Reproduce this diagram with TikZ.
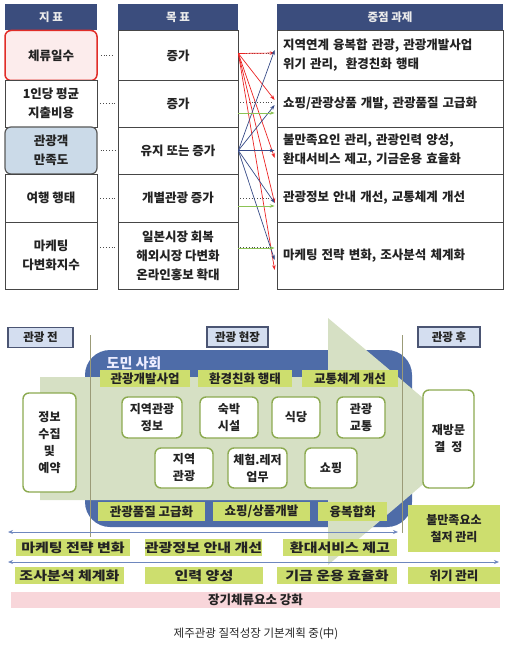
\documentclass[tikz,border=0pt]{standalone}
\usepackage{fontspec}
\setmainfont{Noto Sans CJK KR}
\newfontfamily\widefont{Noto Sans CJK KR}[FakeStretch=1.2]
\usetikzlibrary{arrows.meta}
\definecolor{hdblue}{RGB}{59,77,125}
\definecolor{redline}{RGB}{225,45,40}
\definecolor{pinkcell}{RGB}{252,236,236}
\definecolor{bluecell}{RGB}{203,218,232}
\definecolor{sage}{RGB}{214,224,196}
\definecolor{frameblue}{RGB}{78,108,168}
\definecolor{limefill}{RGB}{205,222,110}
\definecolor{boxgreen}{RGB}{140,170,80}
\definecolor{tagfill}{RGB}{212,222,240}
\definecolor{tagdraw}{RGB}{75,85,115}
\definecolor{vline}{RGB}{155,155,120}
\definecolor{arrowblue}{RGB}{110,135,190}
\definecolor{pinkbar}{RGB}{248,214,218}
\definecolor{arrred}{RGB}{235,35,35}
\definecolor{arrblue}{RGB}{55,75,135}
\definecolor{arrgreen}{RGB}{140,195,85}
\definecolor{txt}{RGB}{35,35,35}
\begin{document}
\begin{tikzpicture}[x=1pt,y=-1pt,
  hd/.style={fill=hdblue, text=white!92!black, font=\bfseries\fontsize{11.5}{14}\selectfont, minimum height=26, inner sep=0},
  cell/.style={draw=gray!55!black, line width=0.7, fill=white, text=txt, align=center, inner sep=0, font=\bfseries\fontsize{12.5}{19}\selectfont},
  task/.style={cell, align=left, text width=214, inner xsep=6},
  tag/.style={draw=tagdraw, fill=tagfill, line width=1.2, text=txt, inner sep=0, minimum height=20, font=\bfseries\fontsize{11.5}{14}\selectfont},
  lbl/.style={fill=limefill, text=txt, inner sep=0, minimum height=17, font=\bfseries\fontsize{12.5}{14}\selectfont},
  wlbl/.style={lbl, font=\widefont\bfseries\fontsize{12.5}{14}\selectfont},
  bx/.style={draw=boxgreen, fill=white, rounded corners=6, line width=1.4, text=txt, align=center, inner sep=0, font=\bfseries\fontsize{12}{17}\selectfont},
  ar/.style={-{Stealth[length=5pt,width=3.5pt]}, line width=0.7},
  dots/.style={dotted, line width=0.8, gray!60!black}]
\useasboundingbox (0,0) rectangle (507,655);

\node[hd, minimum width=92] (h1) at (51,17) {지 표};
\node[hd, minimum width=120] (h2) at (178,17) {목 표};
\node[hd, minimum width=226] (h3) at (390,17) {중점 과제};

\node[cell, minimum width=92, minimum height=50, draw=redline, fill=pinkcell, line width=1.5, rounded corners=6] (a1) at (51,55.5) {체류일수};
\node[cell, minimum width=92, minimum height=47] (a2) at (51,103.5) {1인당 평균\\지출비용};
\node[cell, minimum width=92, minimum height=47, draw=gray!70!black, fill=bluecell, line width=1.2, rounded corners=6] (a3) at (51,150.5) {관광객\\만족도};
\node[cell, minimum width=92, minimum height=48] (a4) at (51,198) {여행 행태};
\node[cell, minimum width=92, minimum height=67] (a5) at (51,255.5) {마케팅\\다변화지수};

\node[cell, minimum width=120, minimum height=50] (b1) at (178,55.5) {증가};
\node[cell, minimum width=120, minimum height=47] (b2) at (178,103.5) {증가};
\node[cell, minimum width=120, minimum height=47] (b3) at (178,150.5) {유지 또는 증가};
\node[cell, minimum width=120, minimum height=48] (b4) at (178,198) {개별관광 증가};
\node[cell, minimum width=120, minimum height=67] (b5) at (178,255.5) {일본시장 회복\\해외시장 다변화\\온라인홍보 확대};

\node[task, minimum height=50] (c1) at (390,55.5) {지역연계 융복합 관광, 관광개발사업\\위기 관리,\ \ 환경친화 행태};
\node[task, minimum height=47] (c2) at (390,103.5) {쇼핑/관광상품 개발, 관광품질 고급화};
\node[task, minimum height=47] (c3) at (390,150.5) {불만족요인 관리, 관광인력 양성,\\환대서비스 제고, 기금운용 효율화};
\node[task, minimum height=48] (c4) at (390,198) {관광정보 안내 개선, 교통체계 개선};
\node[task, minimum height=67] (c5) at (390,255.5) {마케팅 전략 변화, 조사분석 체계화};

\foreach \i in {1,...,4}
  \draw[dots] ([xshift=3]a\i.east) -- ([xshift=-3]b\i.west);
\draw[dots] ([xshift=3,yshift=8]a5.east) -- ([xshift=-3,yshift=8]b5.west);
\foreach \i/\s in {1/2, 2/1.5, 4/0, 5/8.5}
  \draw[dots] ([xshift=2,yshift=\s]b\i.east) -- ([xshift=-3,yshift=\s]c\i.west);

\foreach \t/\s in {c1/2.5, c2/3.5, c3/-7.5, c4/-5, c5/-14.5}
  \draw[ar, arrred] ([yshift=2]b1.east) -- ([xshift=-2,yshift=\s]\t.west);
\foreach \t/\s in {c1/5.5, c2/-1.5, c3/0, c4/-5, c5/-4.5}
  \draw[ar, arrblue] (b3.east) -- ([xshift=-2,yshift=\s]\t.west);
\foreach \i/\s in {2/-9.5, 4/-8, 5/7.5}
  \draw[ar, arrgreen] ([yshift=\s]b\i.east) -- ([xshift=-2,yshift=\s]c\i.west);

\fill[frameblue, rounded corners=25] (85,350) rectangle (412,527);
\fill[sage] (40,377) -- (328,377) -- (328,318) -- (474,441) -- (328,565) -- (328,500) -- (40,500) -- cycle;
\draw[vline, line width=0.9] (90,335) -- (90,537);
\draw[vline, line width=0.9] (402,335) -- (402,533);

\node[tag, minimum width=65] (t1) at (40.5,337.5) {관광 전};
\node[tag, minimum width=61] (t2) at (237.5,337) {관광 현장};
\node[tag, minimum width=62] (t3) at (449,337) {관광 후};

\node[text=white!93!blue, font=\bfseries\fontsize{14}{16}\selectfont] (dm) at (134,363) {도민 사회};

\node[lbl, minimum width=90] (l1) at (145,378.5) {관광개발사업};
\node[lbl, minimum width=94] (l2) at (245,378.5) {환경친화 행태};
\node[lbl, minimum width=96] (l3) at (350,378.5) {교통체계 개선};

\node[bx, minimum width=60, minimum height=41] (i1) at (152,417.5) {지역관광\\정보};
\node[bx, minimum width=58, minimum height=41] (i2) at (229,417.5) {숙박\\시설};
\node[bx, minimum width=48, minimum height=41] (i3) at (296,417.5) {식당};
\node[bx, minimum width=48, minimum height=41] (i4) at (361,417.5) {관광\\교통};
\node[bx, minimum width=58, minimum height=40] (i5) at (184,468) {지역\\관광};
\node[bx, minimum width=59, minimum height=40] (i6) at (257.5,468) {체험.레저\\업무};
\node[bx, minimum width=52, minimum height=40] (i7) at (331,468) {쇼핑};

\node[lbl, minimum width=107, minimum height=19] (l4) at (151.5,511.5) {관광품질 고급화};
\node[lbl, minimum width=97, minimum height=19] (l5) at (261.5,511.5) {쇼핑/상품개발};
\node[lbl, minimum width=69, minimum height=19] (l6) at (352.5,511.5) {융복합화};

\node[bx, minimum width=53, minimum height=99] (e1) at (49.5,442.5) {정보\\수집\\및\\예약};
\node[bx, minimum width=51, minimum height=98] (e2) at (448.5,439) {재방문\\결\enspace 정};

\coordinate (p1) at (8,532);
\coordinate (p2) at (398,532);
\coordinate (q1) at (8,562);
\coordinate (q2) at (499,562);
\draw[{Stealth[length=5pt,width=4pt]}-{Stealth[length=5pt,width=4pt]}, arrowblue, line width=0.9] (p1) -- (p2);
\draw[{Stealth[length=5pt,width=4pt]}-{Stealth[length=5pt,width=4pt]}, arrowblue, line width=0.9] (q1) -- (q2);

\node[wlbl, minimum width=114] (m1) at (73,547.5) {마케팅 전략 변화};
\node[wlbl, minimum width=117] (m2) at (203.5,547.5) {관광정보 안내 개선};
\node[wlbl, minimum width=114] (m3) at (340,547.5) {환대서비스 제고};
\node[lbl, minimum width=92, minimum height=47, align=center, font=\bfseries\fontsize{12}{17}\selectfont] (m4) at (454,528.5) {불만족요소\\철저 관리};

\node[wlbl, minimum width=109] (n1) at (69.5,575.5) {조사분석 체계화};
\node[wlbl, minimum width=118] (n2) at (204,575.5) {인력 양성};
\node[wlbl, minimum width=120] (n3) at (337,575.5) {기금 운용 효율화};
\node[lbl, minimum width=92] (n4) at (454,575.5) {위기 관리};

\node[fill=pinkbar, text=txt, minimum width=489, minimum height=16, inner sep=0, font=\bfseries\fontsize{12.5}{14}\selectfont] (pk) at (255.5,600) {장기체류요소 강화};

\node[text=black!85, font=\fontsize{11.5}{14}\selectfont] (cap) at (256,634) {제주관광 질적성장 기본계획 중(中)};
\end{tikzpicture}
\end{document}
